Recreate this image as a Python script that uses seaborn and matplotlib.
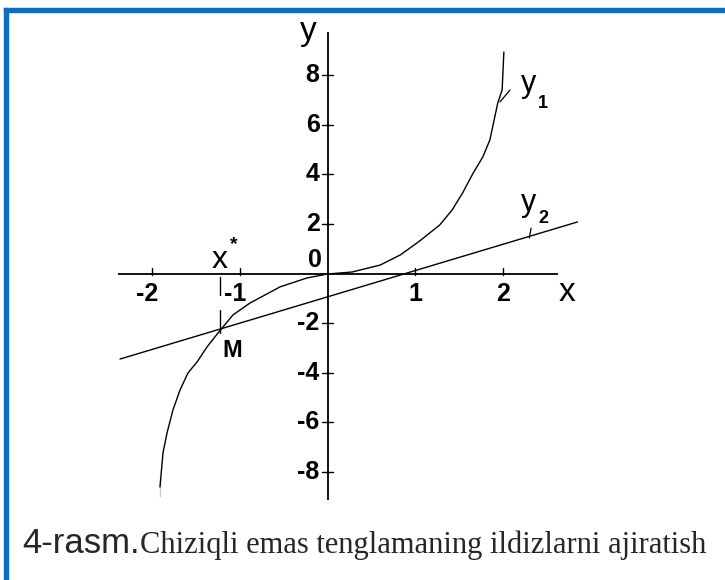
import matplotlib
matplotlib.use("Agg")
import matplotlib.pyplot as plt
from matplotlib.patches import Rectangle
import seaborn as sns
import pandas as pd

# Curve y1 (sampled points of the nonlinear function)
y1_x = [-1.909, -1.909, -1.875, -1.829, -1.761, -1.681, -1.590, -1.487, -1.373,
        -1.248, -1.077, -0.883, -0.541, -0.234, 0.0, 0.14, 0.28, 0.60, 0.83,
        1.05, 1.28, 1.42, 1.54, 1.66, 1.77, 1.85, 1.94, 1.99, 2.01]
y1_y = [-9.01, -8.21, -7.24, -6.43, -5.50, -4.70, -4.01, -3.57, -2.96,
        -2.40, -1.67, -1.19, -0.54, -0.18, -0.02, 0.02, 0.06, 0.34, 0.75,
        1.31, 1.96, 2.56, 3.25, 4.05, 4.70, 5.38, 6.87, 7.40, 8.93]

# Straight line y2
y2_x = [-2.365, 2.85]
y2_y = [-3.45, 2.08]

# Root estimate x* and intersection point M
x_star = -1.225
m_y = -2.40

x_ticks = [-2, -1, 1, 2]
x_tick_labels = ["-2", "-1", "1", "2"]
y_ticks = [-8, -6, -4, -2, 2, 4, 6, 8]
y_tick_labels = ["-8", "-6", "-4", "-2", "2", "4", "6", "8"]

caption_head = "4-rasm."
caption_body = "Chiziqli emas tenglamaning ildizlarni ajiratish"

sns.set_style("white")
plt.rcParams["font.family"] = ["Liberation Sans", "DejaVu Sans"]

fig = plt.figure(figsize=(7.25, 5.8), dpi=100)
fig.patch.set_facecolor("white")
ax = fig.add_axes([0, 0, 1, 1])
ax.set_axis_off()
ax.set_xlim(-327.5 / 87.75, (725 - 327.5) / 87.75)
ax.set_ylim((273.5 - 580) / 24.8, 273.5 / 24.8)

# coordinate axes
ax.plot([-2.387, 2.627], [0, 0], color="black", lw=1.3, solid_capstyle="butt")
ax.plot([0, 0], [-9.13, 9.74], color="black", lw=1.3, solid_capstyle="butt")

# tick marks
for t in x_ticks:
    ax.plot([t, t], [-0.06, 0.22], color="black", lw=1.0)
for t in y_ticks:
    ax.plot([-0.057, 0.057], [t, t], color="black", lw=1.0)

tick_font = dict(fontsize=18, color="black", fontweight="bold")
for t, lab in zip(x_ticks, x_tick_labels):
    off = -0.05 if t < 0 else 0.0
    ax.text(t + off, -0.82, lab, ha="center", va="center", **tick_font)
for t, lab in zip(y_ticks, y_tick_labels):
    ax.text(-0.09, t, lab, ha="right", va="center", **tick_font)
ax.text(-0.14, 0.54, "0", ha="center", va="center", **tick_font)

# curves
df1 = pd.DataFrame({"x": y1_x, "y": y1_y})
df2 = pd.DataFrame({"x": y2_x, "y": y2_y})
sns.lineplot(data=df1, x="x", y="y", sort=False, color="black", lw=1.0, ax=ax)
sns.lineplot(data=df2, x="x", y="y", sort=False, color="black", lw=1.0, ax=ax)

# x* markers
ax.plot([x_star, x_star], [-0.14, -0.87], color="black", lw=1.0)
ax.plot([x_star, x_star], [-1.47, m_y], color="black", lw=1.0)

# leader lines to curve labels
ax.plot([1.966, 2.08], [6.92, 7.40], color="black", lw=0.9)
ax.plot([2.30, 2.32], [1.43, 1.83], color="black", lw=0.9)

lab_font = dict(color="black", ha="center", va="center")
ax.text(2.73, -0.75, "x", fontsize=24, **lab_font)
ax.text(-0.22, 9.75, "y", fontsize=24, **lab_font)
ax.text(2.29, 7.65, "y", fontsize=22, **lab_font)
ax.text(2.45, 6.85, "1", fontsize=13, fontweight="bold", **lab_font)
ax.text(2.29, 2.85, "y", fontsize=22, **lab_font)
ax.text(2.46, 2.2, "2", fontsize=13, fontweight="bold", **lab_font)
ax.text(x_star, 0.54, "x", fontsize=23, **lab_font)
ax.text(-1.065, 1.15, "*", fontsize=14, fontweight="bold", **lab_font)
ax.text(-1.09, -3.12, "M", fontsize=17, fontweight="bold", **lab_font)

# caption
t1 = fig.text(22 / 725, 1 - 553 / 580, caption_head, fontsize=25,
              family=["Liberation Sans"], ha="left", va="baseline")
fig.canvas.draw()
bb = t1.get_window_extent()
fig.text(bb.x1 / 725, 1 - 553 / 580, caption_body, fontsize=22,
         family=["Liberation Serif"], ha="left", va="baseline")

# blue frame (top and left edges)
frame_c = "#0a6fc2"
fig.patches.append(Rectangle((4 / 725, 1 - 12 / 580), 1.0, 4 / 580,
                             transform=fig.transFigure, color=frame_c, zorder=5))
fig.patches.append(Rectangle((4 / 725, 0), 4 / 725, 1 - 8 / 580,
                             transform=fig.transFigure, color=frame_c, zorder=5))

fig.savefig("out.png", dpi=100)
